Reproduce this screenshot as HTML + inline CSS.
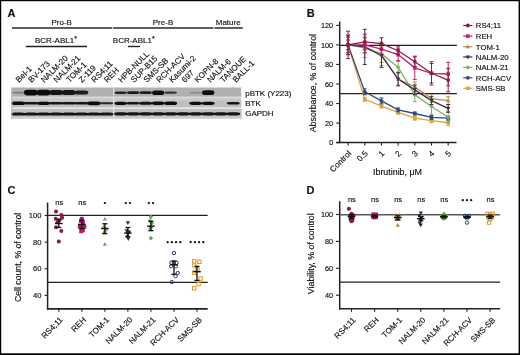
<!DOCTYPE html>
<html><head><meta charset="utf-8"><style>
html,body{margin:0;padding:0;background:#fff;}
svg{display:block;font-family:"Liberation Sans", sans-serif;will-change:transform;}
</style></head><body>
<svg width="520" height="355" viewBox="0 0 520 355">
<defs><filter id="bl" x="-20%" y="-50%" width="140%" height="200%"><feGaussianBlur stdDeviation="0.6"/></filter></defs>
<rect width="520" height="355" fill="#fff"/>
<text x="7.60" y="17.20" font-size="11" text-anchor="start" font-weight="bold" fill="#111" stroke="#111" stroke-width="0.15">A</text>
<text x="61.70" y="24.60" font-size="8" text-anchor="middle" font-weight="normal" fill="#111" stroke="#111" stroke-width="0.15">Pro-B</text>
<line x1="12.00" y1="28.00" x2="112.20" y2="28.00" stroke="#2a2a2a" stroke-width="1.5"/>
<text x="163.00" y="24.60" font-size="8" text-anchor="middle" font-weight="normal" fill="#111" stroke="#111" stroke-width="0.15">Pre-B</text>
<line x1="113.20" y1="28.00" x2="213.40" y2="28.00" stroke="#2a2a2a" stroke-width="1.5"/>
<text x="228.20" y="24.60" font-size="8" text-anchor="middle" font-weight="normal" fill="#111" stroke="#111" stroke-width="0.15">Mature</text>
<line x1="214.40" y1="28.00" x2="242.80" y2="28.00" stroke="#2a2a2a" stroke-width="1.5"/>
<text x="35.00" y="42.80" font-size="8" text-anchor="start" font-weight="normal" fill="#111" stroke="#111" stroke-width="0.15">BCR-ABL1<tspan font-size="7" dy="-2.2">*</tspan></text>
<line x1="25.80" y1="46.50" x2="87.00" y2="46.50" stroke="#222" stroke-width="1.4"/>
<text x="112.80" y="42.80" font-size="8" text-anchor="start" font-weight="normal" fill="#111" stroke="#111" stroke-width="0.15">BCR-ABL1<tspan font-size="7" dy="-2.2">*</tspan></text>
<line x1="128.00" y1="46.50" x2="140.00" y2="46.50" stroke="#222" stroke-width="1.4"/>
<text x="19.00" y="83.00" font-size="8.1" text-anchor="start" font-weight="normal" fill="#111" stroke="#111" stroke-width="0.15" transform="rotate(-45 19.0 83.0)">Bel-1</text>
<text x="31.60" y="83.00" font-size="8.1" text-anchor="start" font-weight="normal" fill="#111" stroke="#111" stroke-width="0.15" transform="rotate(-45 31.599999999999998 83.0)">BV-173</text>
<text x="44.20" y="83.00" font-size="8.1" text-anchor="start" font-weight="normal" fill="#111" stroke="#111" stroke-width="0.15" transform="rotate(-45 44.2 83.0)">NALM-20</text>
<text x="56.80" y="83.00" font-size="8.1" text-anchor="start" font-weight="normal" fill="#111" stroke="#111" stroke-width="0.15" transform="rotate(-45 56.8 83.0)">NALM-21</text>
<text x="69.40" y="83.00" font-size="8.1" text-anchor="start" font-weight="normal" fill="#111" stroke="#111" stroke-width="0.15" transform="rotate(-45 69.4 83.0)">TOM-1</text>
<text x="82.00" y="83.00" font-size="8.1" text-anchor="start" font-weight="normal" fill="#111" stroke="#111" stroke-width="0.15" transform="rotate(-45 82.0 83.0)">Z-119</text>
<text x="94.60" y="83.00" font-size="8.1" text-anchor="start" font-weight="normal" fill="#111" stroke="#111" stroke-width="0.15" transform="rotate(-45 94.6 83.0)">RS4;11</text>
<text x="107.20" y="83.00" font-size="8.1" text-anchor="start" font-weight="normal" fill="#111" stroke="#111" stroke-width="0.15" transform="rotate(-45 107.2 83.0)">REH</text>
<text x="121.40" y="83.00" font-size="8.1" text-anchor="start" font-weight="normal" fill="#111" stroke="#111" stroke-width="0.15" transform="rotate(-45 121.4 83.0)">HPB-NULL</text>
<text x="134.12" y="83.00" font-size="8.1" text-anchor="start" font-weight="normal" fill="#111" stroke="#111" stroke-width="0.15" transform="rotate(-45 134.11999999999998 83.0)">SUP-B15</text>
<text x="146.84" y="83.00" font-size="8.1" text-anchor="start" font-weight="normal" fill="#111" stroke="#111" stroke-width="0.15" transform="rotate(-45 146.83999999999997 83.0)">SMS-SB</text>
<text x="159.56" y="83.00" font-size="8.1" text-anchor="start" font-weight="normal" fill="#111" stroke="#111" stroke-width="0.15" transform="rotate(-45 159.55999999999997 83.0)">RCH-ACV</text>
<text x="172.28" y="83.00" font-size="8.1" text-anchor="start" font-weight="normal" fill="#111" stroke="#111" stroke-width="0.15" transform="rotate(-45 172.27999999999997 83.0)">Kasumi-2</text>
<text x="185.00" y="83.00" font-size="8.1" text-anchor="start" font-weight="normal" fill="#111" stroke="#111" stroke-width="0.15" transform="rotate(-45 184.99999999999997 83.0)">697</text>
<text x="197.72" y="83.00" font-size="8.1" text-anchor="start" font-weight="normal" fill="#111" stroke="#111" stroke-width="0.15" transform="rotate(-45 197.71999999999997 83.0)">KOPN-8</text>
<text x="210.44" y="83.00" font-size="8.1" text-anchor="start" font-weight="normal" fill="#111" stroke="#111" stroke-width="0.15" transform="rotate(-45 210.43999999999997 83.0)">NALM-6</text>
<text x="223.16" y="83.00" font-size="8.1" text-anchor="start" font-weight="normal" fill="#111" stroke="#111" stroke-width="0.15" transform="rotate(-45 223.15999999999997 83.0)">TANOUE</text>
<text x="235.88" y="83.00" font-size="8.1" text-anchor="start" font-weight="normal" fill="#111" stroke="#111" stroke-width="0.15" transform="rotate(-45 235.87999999999997 83.0)">BALL-1</text>
<g>
<rect x="11.40" y="87.50" width="229.80" height="9.30" fill="#b0b0b0"/>
<rect x="11.40" y="96.80" width="229.80" height="1.40" fill="#dadada"/>
<rect x="11.40" y="98.20" width="229.80" height="9.40" fill="#bfbfbf"/>
<rect x="11.40" y="98.20" width="229.80" height="2.30" fill="#cbcbcb"/>
<rect x="11.40" y="107.60" width="229.80" height="1.20" fill="#e6e6e6"/>
<rect x="11.40" y="108.80" width="230.20" height="9.80" fill="#c0c0c0"/>
<rect x="11.40" y="117.00" width="230.20" height="1.60" fill="#d0d0d0"/>
</g>
<g filter="url(#bl)">
<rect x="11.30" y="91.80" width="14.00" height="1.60" rx="3.5" ry="0.80" fill="rgb(124,124,124)"/>
<rect x="23.90" y="89.80" width="14.00" height="5.60" rx="3.5" ry="2.80" fill="rgb(14,14,14)"/>
<rect x="36.50" y="89.80" width="14.00" height="5.60" rx="3.5" ry="2.80" fill="rgb(14,14,14)"/>
<rect x="49.10" y="90.10" width="14.00" height="5.00" rx="3.5" ry="2.50" fill="rgb(18,18,18)"/>
<rect x="61.70" y="90.10" width="14.00" height="5.00" rx="3.5" ry="2.50" fill="rgb(18,18,18)"/>
<rect x="74.30" y="90.60" width="14.00" height="4.00" rx="3.5" ry="2.00" fill="rgb(29,29,29)"/>
<rect x="114.50" y="91.50" width="12.40" height="2.40" rx="3.5" ry="1.20" fill="rgb(37,37,37)"/>
<rect x="127.00" y="91.30" width="12.40" height="2.80" rx="3.5" ry="1.40" fill="rgb(26,26,26)"/>
<rect x="139.50" y="91.30" width="12.40" height="2.80" rx="3.5" ry="1.40" fill="rgb(26,26,26)"/>
<rect x="152.00" y="90.40" width="12.40" height="4.60" rx="3.5" ry="2.30" fill="rgb(14,14,14)"/>
<rect x="164.50" y="91.60" width="12.40" height="2.20" rx="3.5" ry="1.10" fill="rgb(53,53,53)"/>
<rect x="189.50" y="91.70" width="12.40" height="2.00" rx="3.5" ry="1.00" fill="rgb(140,140,140)"/>
<rect x="202.00" y="90.30" width="12.40" height="4.80" rx="3.5" ry="2.40" fill="rgb(14,14,14)"/>
<rect x="11.40" y="101.50" width="13.80" height="3.60" rx="3.5" ry="1.80" fill="rgb(14,14,14)"/>
<rect x="24.00" y="102.00" width="13.80" height="2.60" rx="3.5" ry="1.30" fill="rgb(18,18,18)"/>
<rect x="36.60" y="101.70" width="13.80" height="3.20" rx="3.5" ry="1.60" fill="rgb(14,14,14)"/>
<rect x="49.20" y="102.10" width="13.80" height="2.40" rx="3.5" ry="1.20" fill="rgb(18,18,18)"/>
<rect x="61.80" y="102.00" width="13.80" height="2.60" rx="3.5" ry="1.30" fill="rgb(18,18,18)"/>
<rect x="74.40" y="102.00" width="13.80" height="2.60" rx="3.5" ry="1.30" fill="rgb(18,18,18)"/>
<rect x="87.00" y="101.40" width="13.80" height="3.80" rx="3.5" ry="1.90" fill="rgb(14,14,14)"/>
<rect x="99.60" y="102.30" width="13.80" height="2.00" rx="3.5" ry="1.00" fill="rgb(37,37,37)"/>
<rect x="114.20" y="101.70" width="13.00" height="3.20" rx="3.5" ry="1.60" fill="rgb(14,14,14)"/>
<rect x="126.70" y="102.00" width="13.00" height="2.60" rx="3.5" ry="1.30" fill="rgb(18,18,18)"/>
<rect x="139.20" y="101.80" width="13.00" height="3.00" rx="3.5" ry="1.50" fill="rgb(18,18,18)"/>
<rect x="151.70" y="101.60" width="13.00" height="3.40" rx="3.5" ry="1.70" fill="rgb(14,14,14)"/>
<rect x="164.20" y="101.50" width="13.00" height="3.60" rx="3.5" ry="1.80" fill="rgb(14,14,14)"/>
<rect x="189.20" y="101.70" width="13.00" height="3.20" rx="3.5" ry="1.60" fill="rgb(14,14,14)"/>
<rect x="201.70" y="101.70" width="13.00" height="3.20" rx="3.5" ry="1.60" fill="rgb(14,14,14)"/>
<rect x="226.70" y="102.00" width="13.00" height="2.60" rx="3.5" ry="1.30" fill="rgb(21,21,21)"/>
<rect x="11.20" y="112.40" width="14.20" height="3.00" rx="3.5" ry="1.50" fill="rgb(18,18,18)"/>
<rect x="23.80" y="112.40" width="14.20" height="3.00" rx="3.5" ry="1.50" fill="rgb(18,18,18)"/>
<rect x="36.40" y="112.40" width="14.20" height="3.00" rx="3.5" ry="1.50" fill="rgb(18,18,18)"/>
<rect x="49.00" y="112.40" width="14.20" height="3.00" rx="3.5" ry="1.50" fill="rgb(18,18,18)"/>
<rect x="61.60" y="112.40" width="14.20" height="3.00" rx="3.5" ry="1.50" fill="rgb(18,18,18)"/>
<rect x="74.20" y="112.40" width="14.20" height="3.00" rx="3.5" ry="1.50" fill="rgb(18,18,18)"/>
<rect x="86.80" y="112.40" width="14.20" height="3.00" rx="3.5" ry="1.50" fill="rgb(18,18,18)"/>
<rect x="99.40" y="112.40" width="14.20" height="3.00" rx="3.5" ry="1.50" fill="rgb(18,18,18)"/>
<rect x="113.70" y="112.20" width="14.00" height="3.20" rx="3.5" ry="1.60" fill="rgb(18,18,18)"/>
<rect x="126.20" y="112.20" width="14.00" height="3.20" rx="3.5" ry="1.60" fill="rgb(18,18,18)"/>
<rect x="138.70" y="112.20" width="14.00" height="3.20" rx="3.5" ry="1.60" fill="rgb(18,18,18)"/>
<rect x="151.20" y="112.20" width="14.00" height="3.20" rx="3.5" ry="1.60" fill="rgb(18,18,18)"/>
<rect x="163.70" y="112.20" width="14.00" height="3.20" rx="3.5" ry="1.60" fill="rgb(18,18,18)"/>
<rect x="176.20" y="112.20" width="14.00" height="3.20" rx="3.5" ry="1.60" fill="rgb(18,18,18)"/>
<rect x="188.70" y="112.20" width="14.00" height="3.20" rx="3.5" ry="1.60" fill="rgb(18,18,18)"/>
<rect x="201.20" y="112.20" width="14.00" height="3.20" rx="3.5" ry="1.60" fill="rgb(18,18,18)"/>
<rect x="213.70" y="112.20" width="14.00" height="3.20" rx="3.5" ry="1.60" fill="rgb(18,18,18)"/>
<rect x="226.20" y="112.20" width="14.00" height="3.20" rx="3.5" ry="1.60" fill="rgb(18,18,18)"/>
</g>
<rect x="113.30" y="87.50" width="0.90" height="31.10" fill="#e8e8e8"/>
<rect x="11.40" y="87.50" width="1.00" height="31.10" fill="#b8b8b8"/>
<text x="245.20" y="95.90" font-size="8" text-anchor="start" font-weight="normal" fill="#111" stroke="#111" stroke-width="0.15">pBTK (Y223)</text>
<text x="245.20" y="105.60" font-size="8" text-anchor="start" font-weight="normal" fill="#111" stroke="#111" stroke-width="0.15">BTK</text>
<text x="245.20" y="116.30" font-size="8" text-anchor="start" font-weight="normal" fill="#111" stroke="#111" stroke-width="0.15">GAPDH</text>
<text x="306.80" y="17.00" font-size="11" text-anchor="start" font-weight="bold" fill="#111" stroke="#111" stroke-width="0.15">B</text>
<line x1="339.70" y1="21.50" x2="339.70" y2="143.10" stroke="#222" stroke-width="1.5"/>
<line x1="336.20" y1="142.40" x2="456.50" y2="142.40" stroke="#222" stroke-width="1.5"/>
<line x1="336.20" y1="142.60" x2="339.70" y2="142.60" stroke="#222" stroke-width="1.1"/>
<text x="333.20" y="145.20" font-size="7.3" text-anchor="end" font-weight="normal" fill="#111" stroke="#111" stroke-width="0.15">0</text>
<line x1="336.20" y1="123.06" x2="339.70" y2="123.06" stroke="#222" stroke-width="1.1"/>
<text x="333.20" y="125.66" font-size="7.3" text-anchor="end" font-weight="normal" fill="#111" stroke="#111" stroke-width="0.15">20</text>
<line x1="336.20" y1="103.52" x2="339.70" y2="103.52" stroke="#222" stroke-width="1.1"/>
<text x="333.20" y="106.12" font-size="7.3" text-anchor="end" font-weight="normal" fill="#111" stroke="#111" stroke-width="0.15">40</text>
<line x1="336.20" y1="83.98" x2="339.70" y2="83.98" stroke="#222" stroke-width="1.1"/>
<text x="333.20" y="86.58" font-size="7.3" text-anchor="end" font-weight="normal" fill="#111" stroke="#111" stroke-width="0.15">60</text>
<line x1="336.20" y1="64.44" x2="339.70" y2="64.44" stroke="#222" stroke-width="1.1"/>
<text x="333.20" y="67.04" font-size="7.3" text-anchor="end" font-weight="normal" fill="#111" stroke="#111" stroke-width="0.15">80</text>
<line x1="336.20" y1="44.90" x2="339.70" y2="44.90" stroke="#222" stroke-width="1.1"/>
<text x="333.20" y="47.50" font-size="7.3" text-anchor="end" font-weight="normal" fill="#111" stroke="#111" stroke-width="0.15">100</text>
<line x1="336.20" y1="25.36" x2="339.70" y2="25.36" stroke="#222" stroke-width="1.1"/>
<text x="333.20" y="27.96" font-size="7.3" text-anchor="end" font-weight="normal" fill="#111" stroke="#111" stroke-width="0.15">120</text>
<line x1="348.10" y1="142.50" x2="348.10" y2="145.60" stroke="#222" stroke-width="1.1"/>
<line x1="364.78" y1="142.50" x2="364.78" y2="145.60" stroke="#222" stroke-width="1.1"/>
<line x1="381.46" y1="142.50" x2="381.46" y2="145.60" stroke="#222" stroke-width="1.1"/>
<line x1="398.14" y1="142.50" x2="398.14" y2="145.60" stroke="#222" stroke-width="1.1"/>
<line x1="414.82" y1="142.50" x2="414.82" y2="145.60" stroke="#222" stroke-width="1.1"/>
<line x1="431.50" y1="142.50" x2="431.50" y2="145.60" stroke="#222" stroke-width="1.1"/>
<line x1="448.18" y1="142.50" x2="448.18" y2="145.60" stroke="#222" stroke-width="1.1"/>
<text x="351.70" y="154.00" font-size="8.2" text-anchor="end" font-weight="normal" fill="#111" stroke="#111" stroke-width="0.15" transform="rotate(-45 351.70000000000005 154.0)">Control</text>
<text x="368.38" y="154.00" font-size="8.2" text-anchor="end" font-weight="normal" fill="#111" stroke="#111" stroke-width="0.15" transform="rotate(-45 368.38000000000005 154.0)">0.5</text>
<text x="385.06" y="154.00" font-size="8.2" text-anchor="end" font-weight="normal" fill="#111" stroke="#111" stroke-width="0.15" transform="rotate(-45 385.06000000000006 154.0)">1</text>
<text x="401.74" y="154.00" font-size="8.2" text-anchor="end" font-weight="normal" fill="#111" stroke="#111" stroke-width="0.15" transform="rotate(-45 401.74000000000007 154.0)">2</text>
<text x="418.42" y="154.00" font-size="8.2" text-anchor="end" font-weight="normal" fill="#111" stroke="#111" stroke-width="0.15" transform="rotate(-45 418.4200000000001 154.0)">3</text>
<text x="435.10" y="154.00" font-size="8.2" text-anchor="end" font-weight="normal" fill="#111" stroke="#111" stroke-width="0.15" transform="rotate(-45 435.1 154.0)">4</text>
<text x="451.78" y="154.00" font-size="8.2" text-anchor="end" font-weight="normal" fill="#111" stroke="#111" stroke-width="0.15" transform="rotate(-45 451.78000000000003 154.0)">5</text>
<text x="397.50" y="174.50" font-size="8.9" text-anchor="middle" font-weight="normal" fill="#111" stroke="#111" stroke-width="0.15">Ibrutinib, μM</text>
<text x="316.20" y="83.10" font-size="8.8" text-anchor="middle" font-weight="normal" fill="#111" stroke="#111" stroke-width="0.15" transform="rotate(-90 316.2 83.1)">Absorbance, % of control</text>
<line x1="339.70" y1="45.40" x2="456.90" y2="45.40" stroke="#1e1e1e" stroke-width="1.25"/>
<line x1="339.70" y1="93.65" x2="456.90" y2="93.65" stroke="#222" stroke-width="1.3"/>
<polyline points="348.10,44.90 364.78,99.32 381.46,106.06 398.14,112.31 414.82,118.17 431.50,120.72 448.18,122.77" fill="none" stroke="#dea43a" stroke-width="1.3"/>
<polyline points="348.10,44.90 364.78,91.80 381.46,100.88 398.14,109.87 414.82,113.49 431.50,117.39 448.18,118.17" fill="none" stroke="#2d4b80" stroke-width="1.3"/>
<polyline points="348.10,44.90 364.78,46.85 381.46,54.67 398.14,79.09 414.82,86.91 431.50,98.63 448.18,100.59" fill="none" stroke="#b4904f" stroke-width="1.3"/>
<polyline points="348.10,44.90 364.78,47.83 381.46,53.69 398.14,67.37 414.82,94.73 431.50,106.45 448.18,117.20" fill="none" stroke="#78b35c" stroke-width="1.3"/>
<polyline points="348.10,44.90 364.78,46.85 381.46,55.65 398.14,79.09 414.82,89.84 431.50,100.59 448.18,108.41" fill="none" stroke="#3e2a52" stroke-width="1.3"/>
<polyline points="348.10,44.90 364.78,44.90 381.46,49.20 398.14,54.67 414.82,67.86 431.50,73.33 448.18,74.01" fill="none" stroke="#c8206e" stroke-width="1.3"/>
<polyline points="348.10,44.90 364.78,41.97 381.46,43.63 398.14,50.76 414.82,61.70 431.50,73.23 448.18,80.07" fill="none" stroke="#8a1d45" stroke-width="1.3"/>
<line x1="348.10" y1="40.02" x2="348.10" y2="49.78" stroke="#dea43a" stroke-width="1.0"/>
<line x1="346.10" y1="40.02" x2="350.10" y2="40.02" stroke="#dea43a" stroke-width="1.0"/>
<line x1="346.10" y1="49.78" x2="350.10" y2="49.78" stroke="#dea43a" stroke-width="1.0"/>
<rect x="346.30" y="43.10" width="3.6" height="3.6" fill="#dea43a"/>
<line x1="364.78" y1="97.36" x2="364.78" y2="101.27" stroke="#dea43a" stroke-width="1.0"/>
<line x1="362.78" y1="97.36" x2="366.78" y2="97.36" stroke="#dea43a" stroke-width="1.0"/>
<line x1="362.78" y1="101.27" x2="366.78" y2="101.27" stroke="#dea43a" stroke-width="1.0"/>
<rect x="362.98" y="97.52" width="3.6" height="3.6" fill="#dea43a"/>
<line x1="381.46" y1="104.11" x2="381.46" y2="108.01" stroke="#dea43a" stroke-width="1.0"/>
<line x1="379.46" y1="104.11" x2="383.46" y2="104.11" stroke="#dea43a" stroke-width="1.0"/>
<line x1="379.46" y1="108.01" x2="383.46" y2="108.01" stroke="#dea43a" stroke-width="1.0"/>
<rect x="379.66" y="104.26" width="3.6" height="3.6" fill="#dea43a"/>
<line x1="398.14" y1="110.36" x2="398.14" y2="114.27" stroke="#dea43a" stroke-width="1.0"/>
<line x1="396.14" y1="110.36" x2="400.14" y2="110.36" stroke="#dea43a" stroke-width="1.0"/>
<line x1="396.14" y1="114.27" x2="400.14" y2="114.27" stroke="#dea43a" stroke-width="1.0"/>
<rect x="396.34" y="110.51" width="3.6" height="3.6" fill="#dea43a"/>
<line x1="414.82" y1="116.22" x2="414.82" y2="120.13" stroke="#dea43a" stroke-width="1.0"/>
<line x1="412.82" y1="116.22" x2="416.82" y2="116.22" stroke="#dea43a" stroke-width="1.0"/>
<line x1="412.82" y1="120.13" x2="416.82" y2="120.13" stroke="#dea43a" stroke-width="1.0"/>
<rect x="413.02" y="116.38" width="3.6" height="3.6" fill="#dea43a"/>
<line x1="431.50" y1="118.76" x2="431.50" y2="122.67" stroke="#dea43a" stroke-width="1.0"/>
<line x1="429.50" y1="118.76" x2="433.50" y2="118.76" stroke="#dea43a" stroke-width="1.0"/>
<line x1="429.50" y1="122.67" x2="433.50" y2="122.67" stroke="#dea43a" stroke-width="1.0"/>
<rect x="429.70" y="118.92" width="3.6" height="3.6" fill="#dea43a"/>
<line x1="448.18" y1="119.84" x2="448.18" y2="125.70" stroke="#dea43a" stroke-width="1.0"/>
<line x1="446.18" y1="119.84" x2="450.18" y2="119.84" stroke="#dea43a" stroke-width="1.0"/>
<line x1="446.18" y1="125.70" x2="450.18" y2="125.70" stroke="#dea43a" stroke-width="1.0"/>
<rect x="446.38" y="120.97" width="3.6" height="3.6" fill="#dea43a"/>
<line x1="348.10" y1="40.02" x2="348.10" y2="49.78" stroke="#2d4b80" stroke-width="1.0"/>
<line x1="346.10" y1="40.02" x2="350.10" y2="40.02" stroke="#2d4b80" stroke-width="1.0"/>
<line x1="346.10" y1="49.78" x2="350.10" y2="49.78" stroke="#2d4b80" stroke-width="1.0"/>
<circle cx="348.10" cy="44.90" r="1.9" fill="#2d4b80"/>
<line x1="364.78" y1="88.86" x2="364.78" y2="94.73" stroke="#2d4b80" stroke-width="1.0"/>
<line x1="362.78" y1="88.86" x2="366.78" y2="88.86" stroke="#2d4b80" stroke-width="1.0"/>
<line x1="362.78" y1="94.73" x2="366.78" y2="94.73" stroke="#2d4b80" stroke-width="1.0"/>
<circle cx="364.78" cy="91.80" r="1.9" fill="#2d4b80"/>
<line x1="381.46" y1="97.95" x2="381.46" y2="103.81" stroke="#2d4b80" stroke-width="1.0"/>
<line x1="379.46" y1="97.95" x2="383.46" y2="97.95" stroke="#2d4b80" stroke-width="1.0"/>
<line x1="379.46" y1="103.81" x2="383.46" y2="103.81" stroke="#2d4b80" stroke-width="1.0"/>
<circle cx="381.46" cy="100.88" r="1.9" fill="#2d4b80"/>
<line x1="398.14" y1="107.92" x2="398.14" y2="111.82" stroke="#2d4b80" stroke-width="1.0"/>
<line x1="396.14" y1="107.92" x2="400.14" y2="107.92" stroke="#2d4b80" stroke-width="1.0"/>
<line x1="396.14" y1="111.82" x2="400.14" y2="111.82" stroke="#2d4b80" stroke-width="1.0"/>
<circle cx="398.14" cy="109.87" r="1.9" fill="#2d4b80"/>
<line x1="414.82" y1="112.02" x2="414.82" y2="114.95" stroke="#2d4b80" stroke-width="1.0"/>
<line x1="412.82" y1="112.02" x2="416.82" y2="112.02" stroke="#2d4b80" stroke-width="1.0"/>
<line x1="412.82" y1="114.95" x2="416.82" y2="114.95" stroke="#2d4b80" stroke-width="1.0"/>
<circle cx="414.82" cy="113.49" r="1.9" fill="#2d4b80"/>
<line x1="431.50" y1="115.44" x2="431.50" y2="119.35" stroke="#2d4b80" stroke-width="1.0"/>
<line x1="429.50" y1="115.44" x2="433.50" y2="115.44" stroke="#2d4b80" stroke-width="1.0"/>
<line x1="429.50" y1="119.35" x2="433.50" y2="119.35" stroke="#2d4b80" stroke-width="1.0"/>
<circle cx="431.50" cy="117.39" r="1.9" fill="#2d4b80"/>
<line x1="448.18" y1="116.22" x2="448.18" y2="120.13" stroke="#2d4b80" stroke-width="1.0"/>
<line x1="446.18" y1="116.22" x2="450.18" y2="116.22" stroke="#2d4b80" stroke-width="1.0"/>
<line x1="446.18" y1="120.13" x2="450.18" y2="120.13" stroke="#2d4b80" stroke-width="1.0"/>
<circle cx="448.18" cy="118.17" r="1.9" fill="#2d4b80"/>
<line x1="348.10" y1="35.13" x2="348.10" y2="54.67" stroke="#b4904f" stroke-width="1.0"/>
<line x1="346.10" y1="35.13" x2="350.10" y2="35.13" stroke="#b4904f" stroke-width="1.0"/>
<line x1="346.10" y1="54.67" x2="350.10" y2="54.67" stroke="#b4904f" stroke-width="1.0"/>
<polygon points="348.10,42.60 345.90,46.50 350.30,46.50" fill="#b4904f"/>
<line x1="364.78" y1="40.99" x2="364.78" y2="52.72" stroke="#b4904f" stroke-width="1.0"/>
<line x1="362.78" y1="40.99" x2="366.78" y2="40.99" stroke="#b4904f" stroke-width="1.0"/>
<line x1="362.78" y1="52.72" x2="366.78" y2="52.72" stroke="#b4904f" stroke-width="1.0"/>
<polygon points="364.78,44.55 362.58,48.45 366.98,48.45" fill="#b4904f"/>
<line x1="381.46" y1="46.85" x2="381.46" y2="62.49" stroke="#b4904f" stroke-width="1.0"/>
<line x1="379.46" y1="46.85" x2="383.46" y2="46.85" stroke="#b4904f" stroke-width="1.0"/>
<line x1="379.46" y1="62.49" x2="383.46" y2="62.49" stroke="#b4904f" stroke-width="1.0"/>
<polygon points="381.46,52.37 379.26,56.27 383.66,56.27" fill="#b4904f"/>
<line x1="398.14" y1="73.23" x2="398.14" y2="84.96" stroke="#b4904f" stroke-width="1.0"/>
<line x1="396.14" y1="73.23" x2="400.14" y2="73.23" stroke="#b4904f" stroke-width="1.0"/>
<line x1="396.14" y1="84.96" x2="400.14" y2="84.96" stroke="#b4904f" stroke-width="1.0"/>
<polygon points="398.14,76.80 395.94,80.69 400.34,80.69" fill="#b4904f"/>
<line x1="414.82" y1="82.03" x2="414.82" y2="91.80" stroke="#b4904f" stroke-width="1.0"/>
<line x1="412.82" y1="82.03" x2="416.82" y2="82.03" stroke="#b4904f" stroke-width="1.0"/>
<line x1="412.82" y1="91.80" x2="416.82" y2="91.80" stroke="#b4904f" stroke-width="1.0"/>
<polygon points="414.82,84.61 412.62,88.51 417.02,88.51" fill="#b4904f"/>
<line x1="431.50" y1="94.73" x2="431.50" y2="102.54" stroke="#b4904f" stroke-width="1.0"/>
<line x1="429.50" y1="94.73" x2="433.50" y2="94.73" stroke="#b4904f" stroke-width="1.0"/>
<line x1="429.50" y1="102.54" x2="433.50" y2="102.54" stroke="#b4904f" stroke-width="1.0"/>
<polygon points="431.50,96.33 429.30,100.23 433.70,100.23" fill="#b4904f"/>
<line x1="448.18" y1="96.68" x2="448.18" y2="104.50" stroke="#b4904f" stroke-width="1.0"/>
<line x1="446.18" y1="96.68" x2="450.18" y2="96.68" stroke="#b4904f" stroke-width="1.0"/>
<line x1="446.18" y1="104.50" x2="450.18" y2="104.50" stroke="#b4904f" stroke-width="1.0"/>
<polygon points="448.18,98.29 445.98,102.19 450.38,102.19" fill="#b4904f"/>
<line x1="348.10" y1="37.08" x2="348.10" y2="52.72" stroke="#78b35c" stroke-width="1.0"/>
<line x1="346.10" y1="37.08" x2="350.10" y2="37.08" stroke="#78b35c" stroke-width="1.0"/>
<line x1="346.10" y1="52.72" x2="350.10" y2="52.72" stroke="#78b35c" stroke-width="1.0"/>
<polygon points="348.10,42.50 346.00,44.90 348.10,47.30 350.20,44.90" fill="#78b35c"/>
<line x1="364.78" y1="38.06" x2="364.78" y2="57.60" stroke="#78b35c" stroke-width="1.0"/>
<line x1="362.78" y1="38.06" x2="366.78" y2="38.06" stroke="#78b35c" stroke-width="1.0"/>
<line x1="362.78" y1="57.60" x2="366.78" y2="57.60" stroke="#78b35c" stroke-width="1.0"/>
<polygon points="364.78,45.43 362.68,47.83 364.78,50.23 366.88,47.83" fill="#78b35c"/>
<line x1="381.46" y1="41.97" x2="381.46" y2="65.42" stroke="#78b35c" stroke-width="1.0"/>
<line x1="379.46" y1="41.97" x2="383.46" y2="41.97" stroke="#78b35c" stroke-width="1.0"/>
<line x1="379.46" y1="65.42" x2="383.46" y2="65.42" stroke="#78b35c" stroke-width="1.0"/>
<polygon points="381.46,51.29 379.36,53.69 381.46,56.09 383.56,53.69" fill="#78b35c"/>
<line x1="398.14" y1="61.51" x2="398.14" y2="73.23" stroke="#78b35c" stroke-width="1.0"/>
<line x1="396.14" y1="61.51" x2="400.14" y2="61.51" stroke="#78b35c" stroke-width="1.0"/>
<line x1="396.14" y1="73.23" x2="400.14" y2="73.23" stroke="#78b35c" stroke-width="1.0"/>
<polygon points="398.14,64.97 396.04,67.37 398.14,69.77 400.24,67.37" fill="#78b35c"/>
<line x1="414.82" y1="87.89" x2="414.82" y2="101.57" stroke="#78b35c" stroke-width="1.0"/>
<line x1="412.82" y1="87.89" x2="416.82" y2="87.89" stroke="#78b35c" stroke-width="1.0"/>
<line x1="412.82" y1="101.57" x2="416.82" y2="101.57" stroke="#78b35c" stroke-width="1.0"/>
<polygon points="414.82,92.33 412.72,94.73 414.82,97.13 416.92,94.73" fill="#78b35c"/>
<line x1="431.50" y1="98.63" x2="431.50" y2="114.27" stroke="#78b35c" stroke-width="1.0"/>
<line x1="429.50" y1="98.63" x2="433.50" y2="98.63" stroke="#78b35c" stroke-width="1.0"/>
<line x1="429.50" y1="114.27" x2="433.50" y2="114.27" stroke="#78b35c" stroke-width="1.0"/>
<polygon points="431.50,104.05 429.40,106.45 431.50,108.85 433.60,106.45" fill="#78b35c"/>
<line x1="448.18" y1="111.34" x2="448.18" y2="123.06" stroke="#78b35c" stroke-width="1.0"/>
<line x1="446.18" y1="111.34" x2="450.18" y2="111.34" stroke="#78b35c" stroke-width="1.0"/>
<line x1="446.18" y1="123.06" x2="450.18" y2="123.06" stroke="#78b35c" stroke-width="1.0"/>
<polygon points="448.18,114.80 446.08,117.20 448.18,119.60 450.28,117.20" fill="#78b35c"/>
<line x1="348.10" y1="35.13" x2="348.10" y2="54.67" stroke="#3e2a52" stroke-width="1.0"/>
<line x1="346.10" y1="35.13" x2="350.10" y2="35.13" stroke="#3e2a52" stroke-width="1.0"/>
<line x1="346.10" y1="54.67" x2="350.10" y2="54.67" stroke="#3e2a52" stroke-width="1.0"/>
<polygon points="348.10,47.20 345.90,43.30 350.30,43.30" fill="#3e2a52"/>
<line x1="364.78" y1="29.27" x2="364.78" y2="64.44" stroke="#3e2a52" stroke-width="1.0"/>
<line x1="362.78" y1="29.27" x2="366.78" y2="29.27" stroke="#3e2a52" stroke-width="1.0"/>
<line x1="362.78" y1="64.44" x2="366.78" y2="64.44" stroke="#3e2a52" stroke-width="1.0"/>
<polygon points="364.78,49.15 362.58,45.25 366.98,45.25" fill="#3e2a52"/>
<line x1="381.46" y1="43.92" x2="381.46" y2="67.37" stroke="#3e2a52" stroke-width="1.0"/>
<line x1="379.46" y1="43.92" x2="383.46" y2="43.92" stroke="#3e2a52" stroke-width="1.0"/>
<line x1="379.46" y1="67.37" x2="383.46" y2="67.37" stroke="#3e2a52" stroke-width="1.0"/>
<polygon points="381.46,57.95 379.26,54.05 383.66,54.05" fill="#3e2a52"/>
<line x1="398.14" y1="72.26" x2="398.14" y2="85.93" stroke="#3e2a52" stroke-width="1.0"/>
<line x1="396.14" y1="72.26" x2="400.14" y2="72.26" stroke="#3e2a52" stroke-width="1.0"/>
<line x1="396.14" y1="85.93" x2="400.14" y2="85.93" stroke="#3e2a52" stroke-width="1.0"/>
<polygon points="398.14,81.39 395.94,77.50 400.34,77.50" fill="#3e2a52"/>
<line x1="414.82" y1="84.96" x2="414.82" y2="94.73" stroke="#3e2a52" stroke-width="1.0"/>
<line x1="412.82" y1="84.96" x2="416.82" y2="84.96" stroke="#3e2a52" stroke-width="1.0"/>
<line x1="412.82" y1="94.73" x2="416.82" y2="94.73" stroke="#3e2a52" stroke-width="1.0"/>
<polygon points="414.82,92.14 412.62,88.24 417.02,88.24" fill="#3e2a52"/>
<line x1="431.50" y1="96.68" x2="431.50" y2="104.50" stroke="#3e2a52" stroke-width="1.0"/>
<line x1="429.50" y1="96.68" x2="433.50" y2="96.68" stroke="#3e2a52" stroke-width="1.0"/>
<line x1="429.50" y1="104.50" x2="433.50" y2="104.50" stroke="#3e2a52" stroke-width="1.0"/>
<polygon points="431.50,102.89 429.30,98.99 433.70,98.99" fill="#3e2a52"/>
<line x1="448.18" y1="104.50" x2="448.18" y2="112.31" stroke="#3e2a52" stroke-width="1.0"/>
<line x1="446.18" y1="104.50" x2="450.18" y2="104.50" stroke="#3e2a52" stroke-width="1.0"/>
<line x1="446.18" y1="112.31" x2="450.18" y2="112.31" stroke="#3e2a52" stroke-width="1.0"/>
<polygon points="448.18,110.70 445.98,106.81 450.38,106.81" fill="#3e2a52"/>
<line x1="348.10" y1="37.08" x2="348.10" y2="52.72" stroke="#c8206e" stroke-width="1.0"/>
<line x1="346.10" y1="37.08" x2="350.10" y2="37.08" stroke="#c8206e" stroke-width="1.0"/>
<line x1="346.10" y1="52.72" x2="350.10" y2="52.72" stroke="#c8206e" stroke-width="1.0"/>
<rect x="346.30" y="43.10" width="3.6" height="3.6" fill="#c8206e"/>
<line x1="364.78" y1="37.08" x2="364.78" y2="52.72" stroke="#c8206e" stroke-width="1.0"/>
<line x1="362.78" y1="37.08" x2="366.78" y2="37.08" stroke="#c8206e" stroke-width="1.0"/>
<line x1="362.78" y1="52.72" x2="366.78" y2="52.72" stroke="#c8206e" stroke-width="1.0"/>
<rect x="362.98" y="43.10" width="3.6" height="3.6" fill="#c8206e"/>
<line x1="381.46" y1="44.31" x2="381.46" y2="54.08" stroke="#c8206e" stroke-width="1.0"/>
<line x1="379.46" y1="44.31" x2="383.46" y2="44.31" stroke="#c8206e" stroke-width="1.0"/>
<line x1="379.46" y1="54.08" x2="383.46" y2="54.08" stroke="#c8206e" stroke-width="1.0"/>
<rect x="379.66" y="47.40" width="3.6" height="3.6" fill="#c8206e"/>
<line x1="398.14" y1="48.81" x2="398.14" y2="60.53" stroke="#c8206e" stroke-width="1.0"/>
<line x1="396.14" y1="48.81" x2="400.14" y2="48.81" stroke="#c8206e" stroke-width="1.0"/>
<line x1="396.14" y1="60.53" x2="400.14" y2="60.53" stroke="#c8206e" stroke-width="1.0"/>
<rect x="396.34" y="52.87" width="3.6" height="3.6" fill="#c8206e"/>
<line x1="414.82" y1="56.14" x2="414.82" y2="79.58" stroke="#c8206e" stroke-width="1.0"/>
<line x1="412.82" y1="56.14" x2="416.82" y2="56.14" stroke="#c8206e" stroke-width="1.0"/>
<line x1="412.82" y1="79.58" x2="416.82" y2="79.58" stroke="#c8206e" stroke-width="1.0"/>
<rect x="413.02" y="66.06" width="3.6" height="3.6" fill="#c8206e"/>
<line x1="431.50" y1="61.61" x2="431.50" y2="85.05" stroke="#c8206e" stroke-width="1.0"/>
<line x1="429.50" y1="61.61" x2="433.50" y2="61.61" stroke="#c8206e" stroke-width="1.0"/>
<line x1="429.50" y1="85.05" x2="433.50" y2="85.05" stroke="#c8206e" stroke-width="1.0"/>
<rect x="429.70" y="71.53" width="3.6" height="3.6" fill="#c8206e"/>
<line x1="448.18" y1="62.29" x2="448.18" y2="85.74" stroke="#c8206e" stroke-width="1.0"/>
<line x1="446.18" y1="62.29" x2="450.18" y2="62.29" stroke="#c8206e" stroke-width="1.0"/>
<line x1="446.18" y1="85.74" x2="450.18" y2="85.74" stroke="#c8206e" stroke-width="1.0"/>
<rect x="446.38" y="72.21" width="3.6" height="3.6" fill="#c8206e"/>
<line x1="348.10" y1="31.22" x2="348.10" y2="58.58" stroke="#8a1d45" stroke-width="1.0"/>
<line x1="346.10" y1="31.22" x2="350.10" y2="31.22" stroke="#8a1d45" stroke-width="1.0"/>
<line x1="346.10" y1="58.58" x2="350.10" y2="58.58" stroke="#8a1d45" stroke-width="1.0"/>
<circle cx="348.10" cy="44.90" r="1.9" fill="#8a1d45"/>
<line x1="364.78" y1="34.15" x2="364.78" y2="49.78" stroke="#8a1d45" stroke-width="1.0"/>
<line x1="362.78" y1="34.15" x2="366.78" y2="34.15" stroke="#8a1d45" stroke-width="1.0"/>
<line x1="362.78" y1="49.78" x2="366.78" y2="49.78" stroke="#8a1d45" stroke-width="1.0"/>
<circle cx="364.78" cy="41.97" r="1.9" fill="#8a1d45"/>
<line x1="381.46" y1="37.77" x2="381.46" y2="49.49" stroke="#8a1d45" stroke-width="1.0"/>
<line x1="379.46" y1="37.77" x2="383.46" y2="37.77" stroke="#8a1d45" stroke-width="1.0"/>
<line x1="379.46" y1="49.49" x2="383.46" y2="49.49" stroke="#8a1d45" stroke-width="1.0"/>
<circle cx="381.46" cy="43.63" r="1.9" fill="#8a1d45"/>
<line x1="398.14" y1="46.85" x2="398.14" y2="54.67" stroke="#8a1d45" stroke-width="1.0"/>
<line x1="396.14" y1="46.85" x2="400.14" y2="46.85" stroke="#8a1d45" stroke-width="1.0"/>
<line x1="396.14" y1="54.67" x2="400.14" y2="54.67" stroke="#8a1d45" stroke-width="1.0"/>
<circle cx="398.14" cy="50.76" r="1.9" fill="#8a1d45"/>
<line x1="414.82" y1="56.82" x2="414.82" y2="66.59" stroke="#8a1d45" stroke-width="1.0"/>
<line x1="412.82" y1="56.82" x2="416.82" y2="56.82" stroke="#8a1d45" stroke-width="1.0"/>
<line x1="412.82" y1="66.59" x2="416.82" y2="66.59" stroke="#8a1d45" stroke-width="1.0"/>
<circle cx="414.82" cy="61.70" r="1.9" fill="#8a1d45"/>
<line x1="431.50" y1="63.46" x2="431.50" y2="83.00" stroke="#8a1d45" stroke-width="1.0"/>
<line x1="429.50" y1="63.46" x2="433.50" y2="63.46" stroke="#8a1d45" stroke-width="1.0"/>
<line x1="429.50" y1="83.00" x2="433.50" y2="83.00" stroke="#8a1d45" stroke-width="1.0"/>
<circle cx="431.50" cy="73.23" r="1.9" fill="#8a1d45"/>
<line x1="448.18" y1="68.35" x2="448.18" y2="91.80" stroke="#8a1d45" stroke-width="1.0"/>
<line x1="446.18" y1="68.35" x2="450.18" y2="68.35" stroke="#8a1d45" stroke-width="1.0"/>
<line x1="446.18" y1="91.80" x2="450.18" y2="91.80" stroke="#8a1d45" stroke-width="1.0"/>
<circle cx="448.18" cy="80.07" r="1.9" fill="#8a1d45"/>
<line x1="463.20" y1="25.50" x2="472.40" y2="25.50" stroke="#8a1d45" stroke-width="1.2"/>
<circle cx="467.80" cy="25.50" r="1.9" fill="#8a1d45"/>
<text x="475.80" y="28.30" font-size="7.75" text-anchor="start" font-weight="normal" fill="#111" stroke="#111" stroke-width="0.15">RS4;11</text>
<line x1="463.20" y1="36.10" x2="472.40" y2="36.10" stroke="#c8206e" stroke-width="1.2"/>
<rect x="466.00" y="34.30" width="3.6" height="3.6" fill="#c8206e"/>
<text x="475.80" y="38.90" font-size="7.75" text-anchor="start" font-weight="normal" fill="#111" stroke="#111" stroke-width="0.15">REH</text>
<line x1="463.20" y1="46.70" x2="472.40" y2="46.70" stroke="#b4904f" stroke-width="1.2"/>
<polygon points="467.80,44.40 465.60,48.30 470.00,48.30" fill="#b4904f"/>
<text x="475.80" y="49.50" font-size="7.75" text-anchor="start" font-weight="normal" fill="#111" stroke="#111" stroke-width="0.15">TOM-1</text>
<line x1="463.20" y1="57.00" x2="472.40" y2="57.00" stroke="#3e2a52" stroke-width="1.2"/>
<polygon points="467.80,59.30 465.60,55.40 470.00,55.40" fill="#3e2a52"/>
<text x="475.80" y="59.80" font-size="7.75" text-anchor="start" font-weight="normal" fill="#111" stroke="#111" stroke-width="0.15">NALM-20</text>
<line x1="463.20" y1="67.40" x2="472.40" y2="67.40" stroke="#78b35c" stroke-width="1.2"/>
<polygon points="467.80,65.00 465.70,67.40 467.80,69.80 469.90,67.40" fill="#78b35c"/>
<text x="475.80" y="70.20" font-size="7.75" text-anchor="start" font-weight="normal" fill="#111" stroke="#111" stroke-width="0.15">NALM-21</text>
<line x1="463.20" y1="77.80" x2="472.40" y2="77.80" stroke="#2d4b80" stroke-width="1.2"/>
<circle cx="467.80" cy="77.80" r="1.9" fill="#2d4b80"/>
<text x="475.80" y="80.60" font-size="7.75" text-anchor="start" font-weight="normal" fill="#111" stroke="#111" stroke-width="0.15">RCH-ACV</text>
<line x1="463.20" y1="88.30" x2="472.40" y2="88.30" stroke="#dea43a" stroke-width="1.2"/>
<rect x="466.00" y="86.50" width="3.6" height="3.6" fill="#dea43a"/>
<text x="475.80" y="91.10" font-size="7.75" text-anchor="start" font-weight="normal" fill="#111" stroke="#111" stroke-width="0.15">SMS-SB</text>
<text x="7.40" y="193.80" font-size="11" text-anchor="start" font-weight="bold" fill="#111" stroke="#111" stroke-width="0.15">C</text>
<line x1="47.60" y1="202.50" x2="47.60" y2="309.70" stroke="#222" stroke-width="1.5"/>
<line x1="46.90" y1="308.90" x2="207.70" y2="308.90" stroke="#222" stroke-width="1.6"/>
<line x1="44.60" y1="295.36" x2="47.30" y2="295.36" stroke="#222" stroke-width="1.1"/>
<text x="41.50" y="297.96" font-size="7.6" text-anchor="end" font-weight="normal" fill="#111" stroke="#111" stroke-width="0.15">40</text>
<line x1="44.60" y1="268.74" x2="47.30" y2="268.74" stroke="#222" stroke-width="1.1"/>
<text x="41.50" y="271.34" font-size="7.6" text-anchor="end" font-weight="normal" fill="#111" stroke="#111" stroke-width="0.15">60</text>
<line x1="44.60" y1="242.12" x2="47.30" y2="242.12" stroke="#222" stroke-width="1.1"/>
<text x="41.50" y="244.72" font-size="7.6" text-anchor="end" font-weight="normal" fill="#111" stroke="#111" stroke-width="0.15">80</text>
<line x1="44.60" y1="215.50" x2="47.30" y2="215.50" stroke="#222" stroke-width="1.1"/>
<text x="41.50" y="218.10" font-size="7.6" text-anchor="end" font-weight="normal" fill="#111" stroke="#111" stroke-width="0.15">100</text>
<line x1="58.80" y1="309.00" x2="58.80" y2="311.80" stroke="#222" stroke-width="1.1"/>
<line x1="81.83" y1="309.00" x2="81.83" y2="311.80" stroke="#222" stroke-width="1.1"/>
<line x1="104.86" y1="309.00" x2="104.86" y2="311.80" stroke="#222" stroke-width="1.1"/>
<line x1="127.89" y1="309.00" x2="127.89" y2="311.80" stroke="#222" stroke-width="1.1"/>
<line x1="150.92" y1="309.00" x2="150.92" y2="311.80" stroke="#222" stroke-width="1.1"/>
<line x1="173.95" y1="309.00" x2="173.95" y2="311.80" stroke="#222" stroke-width="1.1"/>
<line x1="196.98" y1="309.00" x2="196.98" y2="311.80" stroke="#222" stroke-width="1.1"/>
<text x="63.30" y="320.40" font-size="8.05" text-anchor="end" font-weight="normal" fill="#111" stroke="#111" stroke-width="0.15" transform="rotate(-45 63.3 320.4)">RS4;11</text>
<text x="86.53" y="320.40" font-size="8.05" text-anchor="end" font-weight="normal" fill="#111" stroke="#111" stroke-width="0.15" transform="rotate(-45 86.53 320.4)">REH</text>
<text x="109.76" y="320.40" font-size="8.05" text-anchor="end" font-weight="normal" fill="#111" stroke="#111" stroke-width="0.15" transform="rotate(-45 109.76 320.4)">TOM-1</text>
<text x="132.99" y="320.40" font-size="8.05" text-anchor="end" font-weight="normal" fill="#111" stroke="#111" stroke-width="0.15" transform="rotate(-45 132.98999999999998 320.4)">NALM-20</text>
<text x="156.22" y="320.40" font-size="8.05" text-anchor="end" font-weight="normal" fill="#111" stroke="#111" stroke-width="0.15" transform="rotate(-45 156.22000000000003 320.4)">NALM-21</text>
<text x="179.45" y="320.40" font-size="8.05" text-anchor="end" font-weight="normal" fill="#111" stroke="#111" stroke-width="0.15" transform="rotate(-45 179.45 320.4)">RCH-ACV</text>
<text x="202.68" y="320.40" font-size="8.05" text-anchor="end" font-weight="normal" fill="#111" stroke="#111" stroke-width="0.15" transform="rotate(-45 202.68 320.4)">SMS-SB</text>
<text x="21.50" y="257.40" font-size="8.7" text-anchor="middle" font-weight="normal" fill="#111" stroke="#111" stroke-width="0.15" transform="rotate(-90 21.5 257.4)">Cell count, % of control</text>
<line x1="47.60" y1="215.40" x2="207.70" y2="215.40" stroke="#222" stroke-width="1.3"/>
<line x1="47.60" y1="282.30" x2="207.70" y2="282.30" stroke="#222" stroke-width="1.3"/>
<text x="59.20" y="204.80" font-size="7.5" text-anchor="middle" font-weight="normal" fill="#111" stroke="#111" stroke-width="0.15">ns</text>
<text x="82.23" y="204.80" font-size="7.5" text-anchor="middle" font-weight="normal" fill="#111" stroke="#111" stroke-width="0.15">ns</text>
<circle cx="104.86" cy="203.10" r="1.15" fill="#111"/>
<circle cx="125.79" cy="203.10" r="1.15" fill="#111"/>
<circle cx="129.99" cy="203.10" r="1.15" fill="#111"/>
<circle cx="148.82" cy="203.10" r="1.15" fill="#111"/>
<circle cx="153.02" cy="203.10" r="1.15" fill="#111"/>
<circle cx="167.65" cy="242.20" r="1.15" fill="#111"/>
<circle cx="171.85" cy="242.20" r="1.15" fill="#111"/>
<circle cx="176.05" cy="242.20" r="1.15" fill="#111"/>
<circle cx="180.25" cy="242.20" r="1.15" fill="#111"/>
<circle cx="190.68" cy="242.20" r="1.15" fill="#111"/>
<circle cx="194.88" cy="242.20" r="1.15" fill="#111"/>
<circle cx="199.08" cy="242.20" r="1.15" fill="#111"/>
<circle cx="203.28" cy="242.20" r="1.15" fill="#111"/>
<circle cx="56.00" cy="211.51" r="2.0" fill="#8a1838"/>
<circle cx="61.40" cy="215.10" r="2.0" fill="#8a1838"/>
<circle cx="62.10" cy="217.76" r="2.0" fill="#8a1838"/>
<circle cx="55.70" cy="218.69" r="2.0" fill="#8a1838"/>
<circle cx="59.30" cy="220.16" r="2.0" fill="#8a1838"/>
<circle cx="57.60" cy="222.16" r="2.0" fill="#8a1838"/>
<circle cx="56.00" cy="227.21" r="2.0" fill="#8a1838"/>
<circle cx="61.30" cy="231.07" r="2.0" fill="#8a1838"/>
<circle cx="58.80" cy="241.45" r="2.0" fill="#8a1838"/>
<line x1="55.00" y1="223.49" x2="62.60" y2="223.49" stroke="#111" stroke-width="1.4"/>
<line x1="58.80" y1="219.49" x2="58.80" y2="227.48" stroke="#111" stroke-width="1.3"/>
<line x1="56.30" y1="219.49" x2="61.30" y2="219.49" stroke="#111" stroke-width="1.3"/>
<line x1="56.30" y1="227.48" x2="61.30" y2="227.48" stroke="#111" stroke-width="1.3"/>
<rect x="79.83" y="216.83" width="4.00" height="4.00" fill="#b8176a"/>
<rect x="79.03" y="219.09" width="4.00" height="4.00" fill="#b8176a"/>
<rect x="80.83" y="220.42" width="4.00" height="4.00" fill="#b8176a"/>
<rect x="77.83" y="224.81" width="4.00" height="4.00" fill="#b8176a"/>
<rect x="82.33" y="224.81" width="4.00" height="4.00" fill="#b8176a"/>
<rect x="79.83" y="226.41" width="4.00" height="4.00" fill="#b8176a"/>
<rect x="79.23" y="229.21" width="4.00" height="4.00" fill="#b8176a"/>
<rect x="80.83" y="228.14" width="4.00" height="4.00" fill="#b8176a"/>
<line x1="78.03" y1="224.42" x2="85.63" y2="224.42" stroke="#111" stroke-width="1.4"/>
<line x1="81.83" y1="220.16" x2="81.83" y2="228.54" stroke="#111" stroke-width="1.3"/>
<line x1="79.33" y1="220.16" x2="84.33" y2="220.16" stroke="#111" stroke-width="1.3"/>
<line x1="79.33" y1="228.54" x2="84.33" y2="228.54" stroke="#111" stroke-width="1.3"/>
<polygon points="104.86,216.63 102.76,220.43 106.96,220.43" fill="#b08a55"/>
<polygon points="103.86,223.95 101.76,227.75 105.96,227.75" fill="#b08a55"/>
<polygon points="106.06,226.61 103.96,230.41 108.16,230.41" fill="#b08a55"/>
<polygon points="104.86,227.94 102.76,231.74 106.96,231.74" fill="#b08a55"/>
<polygon points="104.06,230.60 101.96,234.40 106.16,234.40" fill="#b08a55"/>
<polygon points="104.86,241.92 102.76,245.72 106.96,245.72" fill="#b08a55"/>
<line x1="101.06" y1="228.54" x2="108.66" y2="228.54" stroke="#111" stroke-width="1.4"/>
<line x1="104.86" y1="223.75" x2="104.86" y2="233.47" stroke="#111" stroke-width="1.3"/>
<line x1="102.36" y1="223.75" x2="107.36" y2="223.75" stroke="#111" stroke-width="1.3"/>
<line x1="102.36" y1="233.47" x2="107.36" y2="233.47" stroke="#111" stroke-width="1.3"/>
<polygon points="127.89,225.02 125.79,221.22 129.99,221.22" fill="#352448"/>
<polygon points="126.69,233.01 124.59,229.21 128.79,229.21" fill="#352448"/>
<polygon points="129.09,234.34 126.99,230.54 131.19,230.54" fill="#352448"/>
<polygon points="127.89,236.33 125.79,232.53 129.99,232.53" fill="#352448"/>
<polygon points="127.39,239.00 125.29,235.20 129.49,235.20" fill="#352448"/>
<polygon points="128.29,240.99 126.19,237.19 130.39,237.19" fill="#352448"/>
<line x1="124.09" y1="233.07" x2="131.69" y2="233.07" stroke="#111" stroke-width="1.4"/>
<line x1="127.89" y1="227.48" x2="127.89" y2="236.80" stroke="#111" stroke-width="1.3"/>
<line x1="125.39" y1="227.48" x2="130.39" y2="227.48" stroke="#111" stroke-width="1.3"/>
<line x1="125.39" y1="236.80" x2="130.39" y2="236.80" stroke="#111" stroke-width="1.3"/>
<polygon points="150.92,214.43 148.72,216.83 150.92,219.23 153.12,216.83" fill="#6aa84a"/>
<polygon points="150.12,218.42 147.92,220.82 150.12,223.22 152.32,220.82" fill="#6aa84a"/>
<polygon points="151.82,220.82 149.62,223.22 151.82,225.62 154.02,223.22" fill="#6aa84a"/>
<polygon points="150.92,225.08 148.72,227.48 150.92,229.88 153.12,227.48" fill="#6aa84a"/>
<polygon points="150.42,226.01 148.22,228.41 150.42,230.81 152.62,228.41" fill="#6aa84a"/>
<polygon points="150.92,235.73 148.72,238.13 150.92,240.53 153.12,238.13" fill="#6aa84a"/>
<line x1="147.12" y1="226.15" x2="154.72" y2="226.15" stroke="#111" stroke-width="1.4"/>
<line x1="150.92" y1="221.36" x2="150.92" y2="230.67" stroke="#111" stroke-width="1.3"/>
<line x1="148.42" y1="221.36" x2="153.42" y2="221.36" stroke="#111" stroke-width="1.3"/>
<line x1="148.42" y1="230.67" x2="153.42" y2="230.67" stroke="#111" stroke-width="1.3"/>
<circle cx="173.95" cy="253.03" r="1.70" fill="none" stroke="#263f70" stroke-width="1"/>
<circle cx="171.35" cy="262.75" r="1.70" fill="none" stroke="#263f70" stroke-width="1"/>
<circle cx="173.95" cy="262.75" r="1.70" fill="none" stroke="#263f70" stroke-width="1"/>
<circle cx="176.55" cy="262.75" r="1.70" fill="none" stroke="#263f70" stroke-width="1"/>
<circle cx="171.15" cy="266.08" r="1.70" fill="none" stroke="#263f70" stroke-width="1"/>
<circle cx="175.75" cy="266.34" r="1.70" fill="none" stroke="#263f70" stroke-width="1"/>
<circle cx="177.75" cy="273.00" r="1.70" fill="none" stroke="#263f70" stroke-width="1"/>
<circle cx="175.55" cy="276.06" r="1.70" fill="none" stroke="#263f70" stroke-width="1"/>
<circle cx="171.75" cy="282.05" r="1.70" fill="none" stroke="#263f70" stroke-width="1"/>
<line x1="170.15" y1="264.75" x2="177.75" y2="264.75" stroke="#111" stroke-width="1.4"/>
<line x1="173.95" y1="261.02" x2="173.95" y2="274.33" stroke="#111" stroke-width="1.3"/>
<line x1="171.45" y1="261.02" x2="176.45" y2="261.02" stroke="#111" stroke-width="1.3"/>
<line x1="171.45" y1="274.33" x2="176.45" y2="274.33" stroke="#111" stroke-width="1.3"/>
<rect x="192.48" y="259.59" width="3.40" height="3.40" fill="none" stroke="#d89a2c" stroke-width="1"/>
<rect x="197.68" y="260.12" width="3.40" height="3.40" fill="none" stroke="#d89a2c" stroke-width="1"/>
<rect x="192.68" y="263.85" width="3.40" height="3.40" fill="none" stroke="#d89a2c" stroke-width="1"/>
<rect x="195.78" y="267.71" width="3.40" height="3.40" fill="none" stroke="#d89a2c" stroke-width="1"/>
<rect x="192.48" y="271.03" width="3.40" height="3.40" fill="none" stroke="#d89a2c" stroke-width="1"/>
<rect x="198.88" y="276.89" width="3.40" height="3.40" fill="none" stroke="#d89a2c" stroke-width="1"/>
<rect x="196.88" y="282.35" width="3.40" height="3.40" fill="none" stroke="#d89a2c" stroke-width="1"/>
<rect x="192.48" y="286.61" width="3.40" height="3.40" fill="none" stroke="#d89a2c" stroke-width="1"/>
<line x1="193.18" y1="271.67" x2="200.78" y2="271.67" stroke="#111" stroke-width="1.4"/>
<line x1="196.98" y1="266.34" x2="196.98" y2="280.45" stroke="#111" stroke-width="1.3"/>
<line x1="194.48" y1="266.34" x2="199.48" y2="266.34" stroke="#111" stroke-width="1.3"/>
<line x1="194.48" y1="280.45" x2="199.48" y2="280.45" stroke="#111" stroke-width="1.3"/>
<text x="306.60" y="194.20" font-size="11" text-anchor="start" font-weight="bold" fill="#111" stroke="#111" stroke-width="0.15">D</text>
<line x1="339.70" y1="201.20" x2="339.70" y2="309.60" stroke="#222" stroke-width="1.5"/>
<line x1="339.00" y1="308.80" x2="500.20" y2="308.80" stroke="#222" stroke-width="1.6"/>
<line x1="336.00" y1="295.20" x2="339.70" y2="295.20" stroke="#222" stroke-width="1.1"/>
<text x="333.20" y="297.80" font-size="7.3" text-anchor="end" font-weight="normal" fill="#111" stroke="#111" stroke-width="0.15">40</text>
<line x1="336.00" y1="268.30" x2="339.70" y2="268.30" stroke="#222" stroke-width="1.1"/>
<text x="333.20" y="270.90" font-size="7.3" text-anchor="end" font-weight="normal" fill="#111" stroke="#111" stroke-width="0.15">60</text>
<line x1="336.00" y1="241.40" x2="339.70" y2="241.40" stroke="#222" stroke-width="1.1"/>
<text x="333.20" y="244.00" font-size="7.3" text-anchor="end" font-weight="normal" fill="#111" stroke="#111" stroke-width="0.15">80</text>
<line x1="336.00" y1="214.50" x2="339.70" y2="214.50" stroke="#222" stroke-width="1.1"/>
<text x="333.20" y="217.10" font-size="7.3" text-anchor="end" font-weight="normal" fill="#111" stroke="#111" stroke-width="0.15">100</text>
<line x1="351.50" y1="308.80" x2="351.50" y2="311.80" stroke="#222" stroke-width="1.1"/>
<line x1="374.60" y1="308.80" x2="374.60" y2="311.80" stroke="#222" stroke-width="1.1"/>
<line x1="397.70" y1="308.80" x2="397.70" y2="311.80" stroke="#222" stroke-width="1.1"/>
<line x1="420.80" y1="308.80" x2="420.80" y2="311.80" stroke="#222" stroke-width="1.1"/>
<line x1="443.90" y1="308.80" x2="443.90" y2="311.80" stroke="#222" stroke-width="1.1"/>
<line x1="467.00" y1="308.80" x2="467.00" y2="311.80" stroke="#222" stroke-width="1.1"/>
<line x1="490.10" y1="308.80" x2="490.10" y2="311.80" stroke="#222" stroke-width="1.1"/>
<text x="356.10" y="320.60" font-size="8.05" text-anchor="end" font-weight="normal" fill="#111" stroke="#111" stroke-width="0.15" transform="rotate(-45 356.1 320.6)">RS4;11</text>
<text x="379.40" y="320.60" font-size="8.05" text-anchor="end" font-weight="normal" fill="#111" stroke="#111" stroke-width="0.15" transform="rotate(-45 379.40000000000003 320.6)">REH</text>
<text x="402.70" y="320.60" font-size="8.05" text-anchor="end" font-weight="normal" fill="#111" stroke="#111" stroke-width="0.15" transform="rotate(-45 402.7 320.6)">TOM-1</text>
<text x="426.00" y="320.60" font-size="8.05" text-anchor="end" font-weight="normal" fill="#111" stroke="#111" stroke-width="0.15" transform="rotate(-45 426.00000000000006 320.6)">NALM-20</text>
<text x="449.30" y="320.60" font-size="8.05" text-anchor="end" font-weight="normal" fill="#111" stroke="#111" stroke-width="0.15" transform="rotate(-45 449.3 320.6)">NALM-21</text>
<text x="472.60" y="320.60" font-size="8.05" text-anchor="end" font-weight="normal" fill="#111" stroke="#111" stroke-width="0.15" transform="rotate(-45 472.6 320.6)">RCH-ACV</text>
<text x="495.90" y="320.60" font-size="8.05" text-anchor="end" font-weight="normal" fill="#111" stroke="#111" stroke-width="0.15" transform="rotate(-45 495.90000000000003 320.6)">SMS-SB</text>
<text x="313.60" y="253.70" font-size="8.8" text-anchor="middle" font-weight="normal" fill="#111" stroke="#111" stroke-width="0.15" transform="rotate(-90 313.6 253.7)">Viability, % of control</text>
<line x1="339.70" y1="214.80" x2="499.90" y2="214.80" stroke="#585858" stroke-width="1.5"/>
<line x1="339.70" y1="282.10" x2="500.20" y2="282.10" stroke="#222" stroke-width="1.3"/>
<text x="351.90" y="201.90" font-size="7.5" text-anchor="middle" font-weight="normal" fill="#111" stroke="#111" stroke-width="0.15">ns</text>
<text x="375.00" y="201.90" font-size="7.5" text-anchor="middle" font-weight="normal" fill="#111" stroke="#111" stroke-width="0.15">ns</text>
<text x="398.10" y="201.90" font-size="7.5" text-anchor="middle" font-weight="normal" fill="#111" stroke="#111" stroke-width="0.15">ns</text>
<text x="421.20" y="201.90" font-size="7.5" text-anchor="middle" font-weight="normal" fill="#111" stroke="#111" stroke-width="0.15">ns</text>
<text x="444.30" y="201.90" font-size="7.5" text-anchor="middle" font-weight="normal" fill="#111" stroke="#111" stroke-width="0.15">ns</text>
<circle cx="462.80" cy="200.20" r="1.15" fill="#111"/>
<circle cx="467.00" cy="200.20" r="1.15" fill="#111"/>
<circle cx="471.20" cy="200.20" r="1.15" fill="#111"/>
<text x="490.50" y="201.90" font-size="7.5" text-anchor="middle" font-weight="normal" fill="#111" stroke="#111" stroke-width="0.15">ns</text>
<circle cx="348.90" cy="208.72" r="2.0" fill="#8a1838"/>
<circle cx="351.50" cy="213.83" r="2.0" fill="#8a1838"/>
<circle cx="353.30" cy="215.17" r="2.0" fill="#8a1838"/>
<circle cx="350.00" cy="216.52" r="2.0" fill="#8a1838"/>
<circle cx="352.70" cy="218.27" r="2.0" fill="#8a1838"/>
<circle cx="350.50" cy="219.61" r="2.0" fill="#8a1838"/>
<circle cx="352.30" cy="220.55" r="2.0" fill="#8a1838"/>
<circle cx="351.50" cy="221.22" r="2.0" fill="#8a1838"/>
<line x1="347.70" y1="216.38" x2="355.30" y2="216.38" stroke="#111" stroke-width="1.4"/>
<line x1="351.50" y1="214.50" x2="351.50" y2="218.27" stroke="#111" stroke-width="1.3"/>
<line x1="349.00" y1="214.50" x2="354.00" y2="214.50" stroke="#111" stroke-width="1.3"/>
<line x1="349.00" y1="218.27" x2="354.00" y2="218.27" stroke="#111" stroke-width="1.3"/>
<rect x="371.20" y="212.50" width="4.00" height="4.00" fill="#b8176a"/>
<rect x="374.00" y="212.50" width="4.00" height="4.00" fill="#b8176a"/>
<rect x="372.60" y="213.17" width="4.00" height="4.00" fill="#b8176a"/>
<rect x="371.20" y="214.92" width="4.00" height="4.00" fill="#b8176a"/>
<rect x="374.00" y="214.92" width="4.00" height="4.00" fill="#b8176a"/>
<rect x="372.60" y="215.46" width="4.00" height="4.00" fill="#b8176a"/>
<line x1="370.80" y1="216.11" x2="378.40" y2="216.11" stroke="#111" stroke-width="1.4"/>
<line x1="374.60" y1="215.04" x2="374.60" y2="217.19" stroke="#111" stroke-width="1.3"/>
<line x1="372.10" y1="215.04" x2="377.10" y2="215.04" stroke="#111" stroke-width="1.3"/>
<line x1="372.10" y1="217.19" x2="377.10" y2="217.19" stroke="#111" stroke-width="1.3"/>
<polygon points="395.70,212.84 393.60,216.64 397.80,216.64" fill="#b08a55"/>
<polygon points="399.70,212.84 397.60,216.64 401.80,216.64" fill="#b08a55"/>
<polygon points="397.70,214.99 395.60,218.79 399.80,218.79" fill="#b08a55"/>
<polygon points="396.30,217.01 394.20,220.81 398.40,220.81" fill="#b08a55"/>
<polygon points="398.90,217.01 396.80,220.81 401.00,220.81" fill="#b08a55"/>
<polygon points="397.70,223.06 395.60,226.86 399.80,226.86" fill="#b08a55"/>
<line x1="393.90" y1="217.73" x2="401.50" y2="217.73" stroke="#111" stroke-width="1.4"/>
<line x1="397.70" y1="215.84" x2="397.70" y2="219.88" stroke="#111" stroke-width="1.3"/>
<line x1="395.20" y1="215.84" x2="400.20" y2="215.84" stroke="#111" stroke-width="1.3"/>
<line x1="395.20" y1="219.88" x2="400.20" y2="219.88" stroke="#111" stroke-width="1.3"/>
<polygon points="420.80,215.35 418.70,211.56 422.90,211.56" fill="#352448"/>
<polygon points="419.30,218.04 417.20,214.25 421.40,214.25" fill="#352448"/>
<polygon points="421.80,220.06 419.70,216.26 423.90,216.26" fill="#352448"/>
<polygon points="420.80,222.75 418.70,218.95 422.90,218.95" fill="#352448"/>
<polygon points="419.80,225.44 417.70,221.64 421.90,221.64" fill="#352448"/>
<polygon points="420.80,227.19 418.70,223.39 422.90,223.39" fill="#352448"/>
<line x1="417.00" y1="218.67" x2="424.60" y2="218.67" stroke="#111" stroke-width="1.4"/>
<line x1="420.80" y1="216.52" x2="420.80" y2="220.82" stroke="#111" stroke-width="1.3"/>
<line x1="418.30" y1="216.52" x2="423.30" y2="216.52" stroke="#111" stroke-width="1.3"/>
<line x1="418.30" y1="220.82" x2="423.30" y2="220.82" stroke="#111" stroke-width="1.3"/>
<polygon points="443.90,211.43 441.70,213.83 443.90,216.23 446.10,213.83" fill="#6aa84a"/>
<polygon points="441.90,213.98 439.70,216.38 441.90,218.78 444.10,216.38" fill="#6aa84a"/>
<polygon points="445.90,213.98 443.70,216.38 445.90,218.78 448.10,216.38" fill="#6aa84a"/>
<polygon points="443.90,216.13 441.70,218.53 443.90,220.94 446.10,218.53" fill="#6aa84a"/>
<polygon points="442.40,215.33 440.20,217.73 442.40,220.13 444.60,217.73" fill="#6aa84a"/>
<polygon points="445.40,215.33 443.20,217.73 445.40,220.13 447.60,217.73" fill="#6aa84a"/>
<line x1="440.10" y1="216.79" x2="447.70" y2="216.79" stroke="#111" stroke-width="1.4"/>
<line x1="443.90" y1="215.84" x2="443.90" y2="217.86" stroke="#111" stroke-width="1.3"/>
<line x1="441.40" y1="215.84" x2="446.40" y2="215.84" stroke="#111" stroke-width="1.3"/>
<line x1="441.40" y1="217.86" x2="446.40" y2="217.86" stroke="#111" stroke-width="1.3"/>
<circle cx="465.00" cy="215.84" r="1.70" fill="none" stroke="#263f70" stroke-width="1"/>
<circle cx="469.00" cy="215.84" r="1.70" fill="none" stroke="#263f70" stroke-width="1"/>
<circle cx="467.00" cy="216.52" r="1.70" fill="none" stroke="#263f70" stroke-width="1"/>
<circle cx="466.00" cy="217.46" r="1.70" fill="none" stroke="#263f70" stroke-width="1"/>
<circle cx="468.00" cy="217.46" r="1.70" fill="none" stroke="#263f70" stroke-width="1"/>
<circle cx="467.00" cy="222.57" r="1.70" fill="none" stroke="#263f70" stroke-width="1"/>
<line x1="463.20" y1="217.19" x2="470.80" y2="217.19" stroke="#111" stroke-width="1.4"/>
<line x1="467.00" y1="216.52" x2="467.00" y2="218.00" stroke="#111" stroke-width="1.3"/>
<line x1="464.50" y1="216.52" x2="469.50" y2="216.52" stroke="#111" stroke-width="1.3"/>
<line x1="464.50" y1="218.00" x2="469.50" y2="218.00" stroke="#111" stroke-width="1.3"/>
<rect x="485.80" y="212.13" width="3.40" height="3.40" fill="none" stroke="#d89a2c" stroke-width="1"/>
<rect x="491.00" y="212.13" width="3.40" height="3.40" fill="none" stroke="#d89a2c" stroke-width="1"/>
<rect x="488.40" y="212.80" width="3.40" height="3.40" fill="none" stroke="#d89a2c" stroke-width="1"/>
<rect x="486.40" y="215.49" width="3.40" height="3.40" fill="none" stroke="#d89a2c" stroke-width="1"/>
<rect x="490.40" y="215.49" width="3.40" height="3.40" fill="none" stroke="#d89a2c" stroke-width="1"/>
<rect x="488.40" y="217.37" width="3.40" height="3.40" fill="none" stroke="#d89a2c" stroke-width="1"/>
<rect x="487.40" y="220.87" width="3.40" height="3.40" fill="none" stroke="#d89a2c" stroke-width="1"/>
<line x1="486.30" y1="216.65" x2="493.90" y2="216.65" stroke="#111" stroke-width="1.4"/>
<line x1="490.10" y1="215.17" x2="490.10" y2="218.27" stroke="#111" stroke-width="1.3"/>
<line x1="487.60" y1="215.17" x2="492.60" y2="215.17" stroke="#111" stroke-width="1.3"/>
<line x1="487.60" y1="218.27" x2="492.60" y2="218.27" stroke="#111" stroke-width="1.3"/>
<rect x="0.00" y="0.00" width="520.00" height="1.20" fill="#000"/>
<rect x="0.00" y="0.00" width="1.20" height="355.00" fill="#000"/>
<rect x="518.60" y="0.00" width="1.40" height="355.00" fill="#000"/>
<rect x="0.00" y="353.30" width="520.00" height="1.70" fill="#000"/>
</svg>
</body></html>
